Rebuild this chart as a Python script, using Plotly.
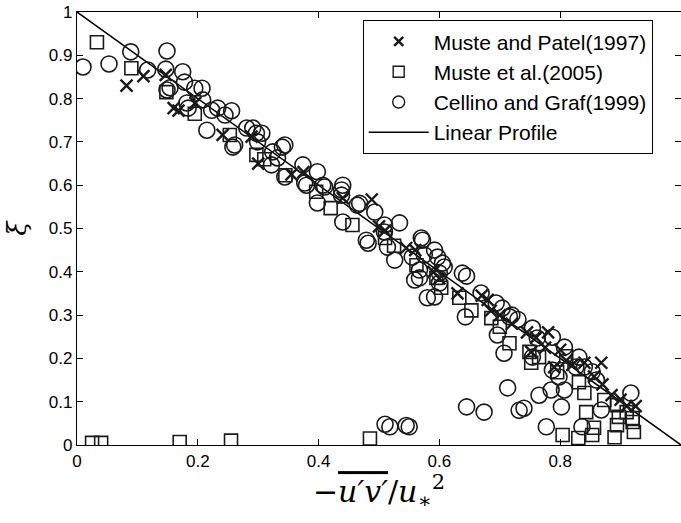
import plotly.graph_objects as go

# Muste and Patel (1997)
mp_x = [0.082, 0.11, 0.147, 0.16, 0.168, 0.196, 0.241, 0.289, 0.30, 0.355, 0.375, 0.44, 0.488, 0.50, 0.51,
        0.545, 0.56, 0.59, 0.60, 0.63, 0.67, 0.68, 0.685, 0.70, 0.72, 0.745, 0.76, 0.752, 0.775, 0.78,
        0.80, 0.82, 0.84, 0.856, 0.868, 0.87, 0.885, 0.90, 0.91, 0.925, 0.79, 0.81]
mp_y = [0.83, 0.852, 0.855, 0.778, 0.772, 0.79, 0.716, 0.712, 0.65, 0.625, 0.63, 0.57, 0.567, 0.505, 0.495,
        0.455, 0.45, 0.40, 0.385, 0.35, 0.345, 0.335, 0.31, 0.30, 0.28, 0.26, 0.248, 0.215, 0.225, 0.26,
        0.22, 0.185, 0.19, 0.158, 0.19, 0.14, 0.115, 0.105, 0.09, 0.09, 0.18, 0.195]

# Muste et al. (2005)
me_x = [0.033, 0.09, 0.148, 0.195, 0.253, 0.297, 0.31, 0.345, 0.396, 0.42, 0.456, 0.51, 0.525, 0.562, 0.595,
        0.603, 0.633, 0.653, 0.686, 0.70, 0.716, 0.749, 0.752, 0.765, 0.795, 0.81, 0.831, 0.84, 0.873, 0.894,
        0.897, 0.92, 0.91, 0.804, 0.83, 0.853, 0.856, 0.843, 0.89, 0.922, 0.894, 0.92,
        0.025, 0.04, 0.17, 0.255, 0.485]
me_y = [0.93, 0.87, 0.815, 0.765, 0.716, 0.67, 0.66, 0.623, 0.585, 0.547, 0.508, 0.478, 0.46, 0.415, 0.386,
        0.363, 0.34, 0.311, 0.293, 0.273, 0.235, 0.215, 0.19, 0.203, 0.168, 0.205, 0.145, 0.12, 0.104, 0.092,
        0.065, 0.053, 0.076, 0.023, 0.016, 0.023, 0.04, 0.076, 0.018, 0.03, 0.046, 0.062,
        0.005, 0.005, 0.007, 0.01, 0.015]

# Cellino and Graf (1999)
cg_x = [0.01, 0.053, 0.089, 0.149, 0.117, 0.147, 0.149, 0.154, 0.175, 0.178, 0.195, 0.207, 0.208, 0.182,
        0.184, 0.223, 0.215, 0.233, 0.245, 0.256, 0.258, 0.261, 0.281, 0.291, 0.297, 0.299, 0.306, 0.322,
        0.324, 0.34, 0.344, 0.332, 0.344, 0.374, 0.398, 0.38, 0.377, 0.398, 0.41, 0.407, 0.44, 0.438, 0.438,
        0.464, 0.468, 0.493, 0.44, 0.479, 0.482, 0.509, 0.509, 0.534, 0.514, 0.526, 0.572, 0.57, 0.555, 0.592,
        0.605, 0.559, 0.567, 0.592, 0.60, 0.58, 0.575, 0.597, 0.608, 0.567, 0.60, 0.638, 0.645, 0.643, 0.669,
        0.694, 0.704, 0.716, 0.696, 0.707, 0.754, 0.762, 0.754, 0.787, 0.807, 0.831, 0.826, 0.787, 0.798,
        0.807, 0.785, 0.765, 0.802, 0.853, 0.868, 0.917, 0.777, 0.836, 0.713, 0.732, 0.74, 0.645, 0.674,
        0.51, 0.518, 0.545, 0.55, 0.84, 0.86, 0.73, 0.72]
cg_y = [0.873, 0.88, 0.908, 0.91, 0.866, 0.868, 0.82, 0.825, 0.862, 0.838, 0.824, 0.824, 0.797, 0.79,
        0.778, 0.773, 0.727, 0.778, 0.762, 0.772, 0.688, 0.693, 0.732, 0.732, 0.72, 0.70, 0.72, 0.647,
        0.677, 0.688, 0.693, 0.663, 0.619, 0.647, 0.631, 0.60, 0.605, 0.559, 0.596, 0.60, 0.60, 0.589, 0.577,
        0.554, 0.558, 0.538, 0.515, 0.473, 0.466, 0.508, 0.492, 0.513, 0.457, 0.427, 0.473, 0.478, 0.434, 0.45,
        0.42, 0.381, 0.404, 0.342, 0.397, 0.34, 0.439, 0.434, 0.411, 0.386, 0.374, 0.397, 0.39, 0.296, 0.351,
        0.328, 0.316, 0.296, 0.254, 0.212, 0.27, 0.247, 0.203, 0.249, 0.226, 0.203, 0.18, 0.173, 0.157,
        0.127, 0.127, 0.115, 0.088, 0.169, 0.081, 0.12, 0.042, 0.042, 0.132, 0.08, 0.085, 0.088, 0.076,
        0.048, 0.042, 0.045, 0.042, 0.18, 0.15, 0.29, 0.30]

# Linear profile
lin_x = [0, 1]
lin_y = [1, 0]

x_tickvals = [0, 0.2, 0.4, 0.6, 0.8]
x_ticktext = ["0", "0.2", "0.4", "0.6", "0.8"]
y_tickvals = [0, 0.1, 0.2, 0.3, 0.4, 0.5, 0.6, 0.7, 0.8, 0.9, 1.0]
y_ticktext = ["0", "0.1", "0.2", "0.3", "0.4", "0.5", "0.6", "0.7", "0.8", "0.9", "1"]

INK = "#1a1a1a"
fig = go.Figure()

fig.add_trace(go.Scatter(x=lin_x, y=lin_y, mode="lines", line=dict(color="black", width=1.5),
                         showlegend=False, hoverinfo="skip", cliponaxis=False))
fig.add_trace(go.Scatter(x=mp_x, y=mp_y, mode="markers", showlegend=False,
                         marker=dict(symbol="x-thin-open", size=12, color=INK, line=dict(color=INK, width=2.4))))
fig.add_trace(go.Scatter(x=me_x, y=me_y, mode="markers", showlegend=False,
                         marker=dict(symbol="square-open", size=13, color=INK, line=dict(color=INK, width=1.6))))
fig.add_trace(go.Scatter(x=cg_x, y=cg_y, mode="markers", showlegend=False,
                         marker=dict(symbol="circle-open", size=16, color=INK, line=dict(color=INK, width=1.6))))

# legend entries
fig.add_trace(go.Scatter(x=[None], y=[None], mode="markers", name="Muste and Patel(1997)",
                         marker=dict(symbol="x-thin-open", size=9, color=INK, line=dict(color=INK, width=2.4))))
fig.add_trace(go.Scatter(x=[None], y=[None], mode="markers", name="Muste et al.(2005)",
                         marker=dict(symbol="square-open", size=11, color=INK, line=dict(color=INK, width=1.4))))
fig.add_trace(go.Scatter(x=[None], y=[None], mode="markers", name="Cellino and Graf(1999)",
                         marker=dict(symbol="circle-open", size=12, color=INK, line=dict(color=INK, width=1.4))))
fig.add_trace(go.Scatter(x=[None], y=[None], mode="lines", name="Linear Profile",
                         line=dict(color="black", width=1.5)))

axis_common = dict(showline=True, linecolor="black", linewidth=1.2, mirror="ticks", ticks="inside",
                   ticklen=6, tickcolor="black", showgrid=False, zeroline=False, automargin=False,
                   tickfont=dict(family="Liberation Sans, Arial, sans-serif", size=17, color="black"))

fig.update_layout(
    width=681, height=523,
    margin=dict(l=77, r=0, t=12, b=78),
    paper_bgcolor="white", plot_bgcolor="white",
    xaxis=dict(range=[0, 1], tickvals=x_tickvals, ticktext=x_ticktext,
               title=dict(text="−<span style='text-decoration:overline'><i>u′v′</i></span>/<i>u</i><sub>∗</sub><sup>2</sup>",
                          font=dict(family="DejaVu Serif, serif", size=30, color="black"), standoff=6),
               **axis_common),
    yaxis=dict(range=[0, 1], tickvals=y_tickvals, ticktext=y_ticktext,
               title=dict(text="<i>ξ</i>", font=dict(family="DejaVu Serif, serif", size=26, color="black"),
                          standoff=14),
               **axis_common),
    legend=dict(x=0.473, y=0.981, xanchor="left", yanchor="top", bgcolor="white",
                bordercolor="black", borderwidth=1, itemwidth=60,
                font=dict(family="Liberation Sans, Arial, sans-serif", size=21, color="black"),
                tracegroupgap=0),
    showlegend=True,
)

fig.write_html("out.html", config={"displayModeBar": False},
               post_script="document.body.style.margin='0';document.body.style.overflow='hidden';")
